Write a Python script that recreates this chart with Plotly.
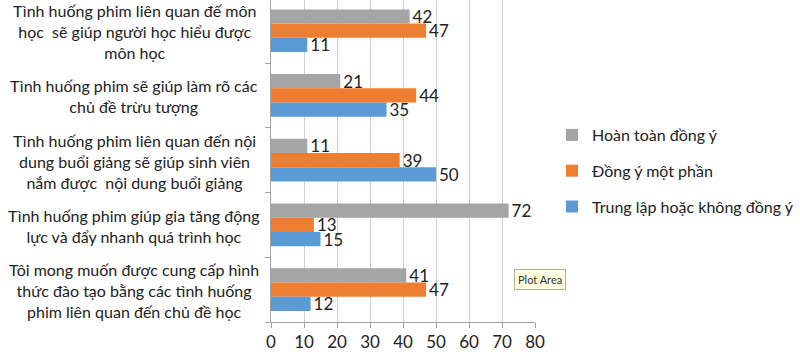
import plotly.graph_objects as go

categories = [
    "Tình huống phim liên quan đế môn<br>học  sẽ giúp người học hiểu được<br>môn học",
    "Tình huống phim sẽ giúp làm rõ các<br>chủ đề trừu tượng",
    "Tình huống phim liên quan đến nội<br>dung buổi giảng sẽ giúp sinh viên<br>nắm được  nội dung buổi giảng",
    "Tình huống phim giúp gia tăng động<br>lực và đẩy nhanh quá trình học",
    "Tôi mong muốn được cung cấp hình<br>thức đào tạo bằng các tình huống<br>phim liên quan đến chủ đề học",
]
series_names = ["Hoàn toàn đồng ý", "Đồng ý một phần", "Trung lập hoặc không đồng ý"]
hoan_toan = [42, 21, 11, 72, 41]
mot_phan = [47, 44, 39, 13, 47]
trung_lap = [11, 35, 50, 15, 12]
x_ticks = [0, 10, 20, 30, 40, 50, 60, 70, 80]

colors = ["#A5A5A5", "#ED7D31", "#5B9BD5"]
FONT = "Lato, 'Noto Sans', sans-serif"

ids = list(range(len(categories)))
fig = go.Figure()
for name, vals, col in zip(series_names, [hoan_toan, mot_phan, trung_lap], colors):
    fig.add_trace(go.Bar(
        y=ids, x=vals, orientation="h", name=name, legendgroup=name,
        marker=dict(color=col, line=dict(width=0)),
        text=[str(v) for v in vals], textposition="outside", constraintext="none",
        textfont=dict(size=17, color="#222222", family=FONT),
        cliponaxis=False,
    ))

L, R = 271, 535
plot_w = R - L
for i, c in enumerate(categories):
    fig.add_annotation(
        x=(134 - L) / plot_w, xref="paper", y=i, yref="y", yshift=-1,
        text=c, showarrow=False, xanchor="center", yanchor="middle", align="center",
        font=dict(size=16, color="#222222", family=FONT),
    )

fig.add_annotation(
    x=(540 - L) / plot_w, xref="paper", y=1 - 279 / 322, yref="paper",
    text="Plot Area", showarrow=False, xanchor="center", yanchor="middle",
    font=dict(size=11, color="#333333", family=FONT),
    bgcolor="#FFFFE0", bordercolor="#B0B0A0", borderwidth=1, borderpad=3,
)

fig.update_layout(
    width=800, height=357,
    margin=dict(l=L, r=800 - R, t=0, b=357 - 322, autoexpand=False),
    paper_bgcolor="white", plot_bgcolor="white",
    barmode="group", bargap=0.34, bargroupgap=0,
    font=dict(family=FONT, color="#222222"),
    showlegend=True,
    legend=dict(
        x=(552 - L) / plot_w, xanchor="left", y=1 - 118 / 322, yanchor="top",
        font=dict(size=16, color="#222222", family=FONT),
        traceorder="grouped", tracegroupgap=12,
        itemwidth=30, bgcolor="rgba(0,0,0,0)",
    ),
)
fig.update_xaxes(
    range=[0, 80], tickvals=x_ticks, ticktext=[str(t) for t in x_ticks],
    showgrid=True, gridcolor="#D0D0D0", gridwidth=1,
    showline=True, linecolor="#A0A0A0", ticks="outside", ticklen=5, tickcolor="#A0A0A0",
    tickfont=dict(size=17, color="#222222", family=FONT), zeroline=False,
)
fig.update_yaxes(
    range=[4.5, -0.475], tickvals=[-0.5, 0.5, 1.5, 2.5, 3.5, 4.5], showticklabels=False,
    showgrid=False, showline=True, linecolor="#A0A0A0",
    ticks="outside", ticklen=5, tickcolor="#A0A0A0", zeroline=False,
)

fig.write_html("out.html", config={"displayModeBar": False},
               post_script="document.body.style.margin='0px';")
